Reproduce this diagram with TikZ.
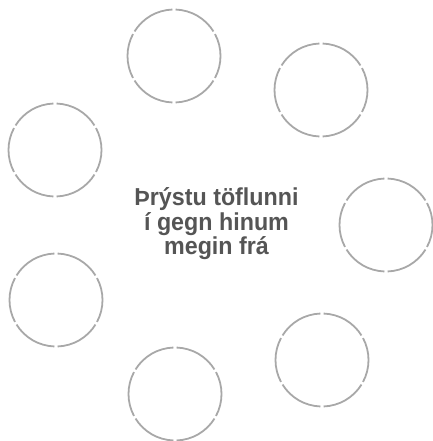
\documentclass[tikz,border=0pt]{standalone}
\usepackage{fontspec}
\setmainfont{Liberation Sans}
\newfontfamily\narrowbold[FakeStretch=0.95]{Liberation Sans Bold}
\begin{document}
\begin{tikzpicture}[x=1pt,y=-1pt,
  ring/.style={circle,minimum size=93pt,inner sep=0pt},
  ringline/.style={draw=ringgray,line width=1.8pt},
  label/.style={font=\narrowbold\fontsize{24.5}{24.5}\selectfont,text=txtgray,align=center}]
\definecolor{ringgray}{HTML}{A8A8A8}
\definecolor{txtgray}{HTML}{555555}
\useasboundingbox (0,0) rectangle (432,441);
\node[ring] (c1) at (174,56) {};
\node[ring] (c2) at (321,90) {};
\node[ring] (c3) at (55,150) {};
\node[ring] (c4) at (386,225) {};
\node[ring] (c5) at (56,300) {};
\node[ring] (c6) at (322,360) {};
\node[ring] (c7) at (175,394) {};
\foreach \c in {c1,c2,c3,c4,c5,c6,c7}{
  \foreach \a in {30,90,...,330}{
    \draw[ringline] (\c.center) ++(\a+1.9:46.5) arc[start angle=\a+1.9, end angle=\a+58.1, radius=46.5];
  }
}
\node[label] (t) at (216.5,224) {Þrýstu töflunni\\í gegn hinum\\megin frá};
\end{tikzpicture}
\end{document}
